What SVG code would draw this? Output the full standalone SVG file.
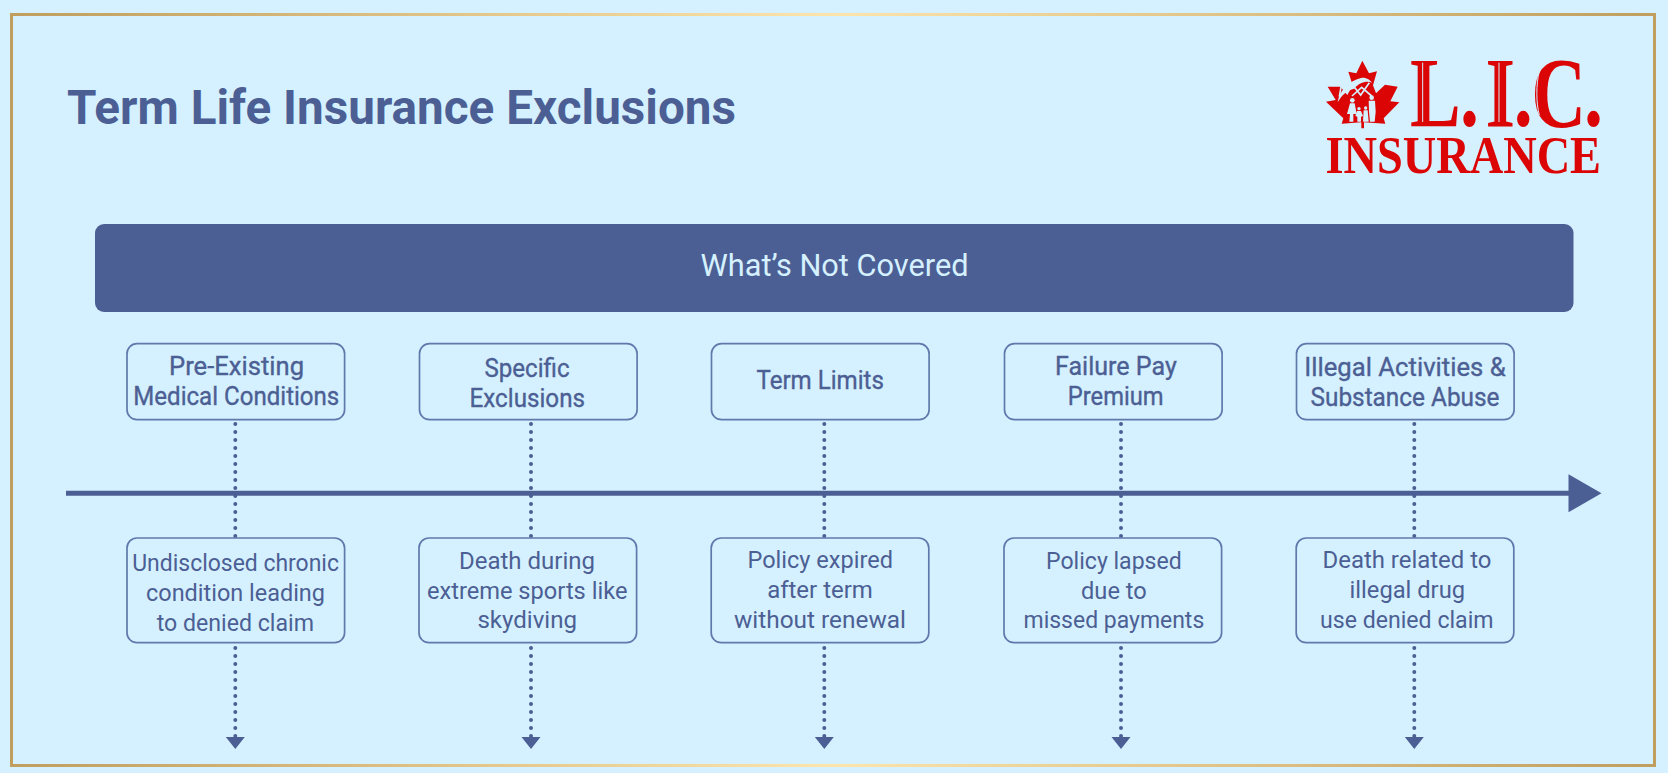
<svg xmlns="http://www.w3.org/2000/svg" width="1668" height="773" viewBox="0 0 1668 773">
<defs>
<linearGradient id="gold" x1="0" y1="0" x2="1" y2="0"><stop offset="0" stop-color="#bf9e60"/><stop offset=".5" stop-color="#fde4aa"/><stop offset="1" stop-color="#bf9e60"/></linearGradient>
</defs>
<style>
text{font-family:Roboto,"Liberation Sans",sans-serif;fill:#4c5f94;text-anchor:middle}
.box{fill:none;stroke:#6079ac;stroke-width:1.7}
.t{font-size:25px;font-weight:400;stroke:#4c5f94;stroke-width:.35}
.b{font-size:24px;font-weight:400}
.dot{stroke:#4c5f94;stroke-width:4;stroke-linecap:round;stroke-dasharray:0 8;fill:none}
.logo{font-family:"Liberation Serif",serif;fill:#dc0505;font-weight:700;text-anchor:start}
.cut{fill:#d5f1ff}
.cutl{fill:none;stroke:#d5f1ff}
</style>
<rect width="1668" height="773" fill="#d5f1ff"/>
<rect x="11.5" y="14.5" width="1643" height="751" fill="none" stroke="url(#gold)" stroke-width="3"/>
<text x="67" y="124" textLength="669" lengthAdjust="spacingAndGlyphs" style="text-anchor:start;font-size:48px;font-weight:700">Term Life Insurance Exclusions</text>
<g id="logo">
<g transform="translate(1290 40) scale(.33333)">
<path d="M217 62L237 100 261 94 249 136 258 160 285 134 323 140 301 184 328 187 281 235 286 251 222 247V265H214V247L155 251 160 235 108 185 137 180 113 140 151 140 172 165 188 136 175 95 199 100Z" fill="#dc0505"/>
<path class="cut" d="M143 187C148 152 175 124 213 114 228 111 240 120 246 128 228 121 206 130 193 146 172 150 154 166 143 187Z"/>
<path class="cutl" stroke-width="5" d="M148 170L155 130M186 168L215 142 245 168M192 140L212 165 238 128"/>
<g class="cut">
<circle cx="187" cy="181" r="7"/><path d="M180 190L194 190 200 222 190 222 190 245 178 245 180 222 171 222Z"/>
<circle cx="245" cy="173" r="7"/><path d="M236 182L255 182 257 215 254 245 240 245 237 215Z"/>
<circle cx="207" cy="206" r="5"/><path d="M201 213L213 213 219 228 213 230 213 245 202 245 202 230 196 228Z"/>
<circle cx="227" cy="204" r="5"/><path d="M221 211L233 211 236 245 219 245Z"/>
</g>
</g>
<text class="logo" transform="translate(1410 125.700) scale(.76 1)" x="0 65.800 95 99.300 136.400 159.400 229" y="0" style="font-size:100px">L. I.C.</text>
<g transform="translate(1290 40) scale(.33333)">
<path class="cutl" stroke-width="3" d="M398 68V246M627 68V246M748 95C738 130 738 190 748 225"/>
</g>
<text class="logo" x="1325.500" y="172.700" textLength="275.500" lengthAdjust="spacingAndGlyphs" style="font-size:52px">INSURANCE</text>
</g>
<g id="banner"><rect x="95" y="224" width="1478.500" height="88" rx="9" fill="#4c5f94"/><text x="834.500" y="275.700" textLength="268" lengthAdjust="spacingAndGlyphs" style="font-size:31px;font-weight:400;fill:#d5f1ff">What’s Not Covered</text></g>
<g id="connectors">
<path d="M66 493.200H1575" stroke="#4c5f94" stroke-width="5" fill="none"/>
<path d="M1568.500 474.300L1601.500 493.300L1568.500 512.300Z" fill="#4c5f94"/>
<path class="dot" d="M235.300 424V537M235.300 648V738" />
<path class="dot" d="M531 424V537M531 648V738" />
<path class="dot" d="M824.300 424V537M824.300 648V738" />
<path class="dot" d="M1121 424V537M1121 648V738" />
<path class="dot" d="M1414.300 424V537M1414.300 648V738" />
<path d="M225.800 737h19l-9.500 12zM521.500 737h19l-9.500 12zM814.800 737h19l-9.500 12zM1111.500 737h19l-9.500 12zM1404.800 737h19l-9.500 12z" fill="#4c5f94"/>
</g>
<g id="n1"><rect class="box" x="127" y="343.700" width="217.600" height="76" rx="10"/><text class="t" x="236.500" y="375" textLength="135" lengthAdjust="spacingAndGlyphs">Pre-Existing</text><text class="t" x="236.300" y="405" textLength="206" lengthAdjust="spacingAndGlyphs">Medical Conditions</text></g>
<g id="n2"><rect class="box" x="419.500" y="343.700" width="217.600" height="76" rx="10"/><text class="t" x="527" y="376.700" textLength="85" lengthAdjust="spacingAndGlyphs">Specific</text><text class="t" x="527.300" y="407.300" textLength="115.400" lengthAdjust="spacingAndGlyphs">Exclusions</text></g>
<g id="n3"><rect class="box" x="711.500" y="343.700" width="217.600" height="76" rx="10"/><text class="t" x="820.200" y="388.700" textLength="127.500" lengthAdjust="spacingAndGlyphs">Term Limits</text></g>
<g id="n4"><rect class="box" x="1004.500" y="343.700" width="217.600" height="76" rx="10"/><text class="t" x="1115.900" y="375" textLength="121.800" lengthAdjust="spacingAndGlyphs">Failure Pay</text><text class="t" x="1115.700" y="405.300" textLength="95.700" lengthAdjust="spacingAndGlyphs">Premium</text></g>
<g id="n5"><rect class="box" x="1296.500" y="343.700" width="217.600" height="76" rx="10"/><text class="t" x="1405" y="375.700" textLength="201.400" lengthAdjust="spacingAndGlyphs">Illegal Activities &amp;</text><text class="t" x="1405" y="406" textLength="189" lengthAdjust="spacingAndGlyphs">Substance Abuse</text></g>
<g id="d1"><rect class="box" x="127" y="538" width="217.600" height="104.700" rx="10"/><text class="b" x="235.600" y="570.700" textLength="206.700" lengthAdjust="spacingAndGlyphs">Undisclosed chronic</text><text class="b" x="235.500" y="600.700" textLength="179" lengthAdjust="spacingAndGlyphs">condition leading</text><text class="b" x="235.300" y="630.700" textLength="157.300" lengthAdjust="spacingAndGlyphs">to denied claim</text></g>
<g id="d2"><rect class="box" x="419" y="538" width="217.600" height="104.700" rx="10"/><text class="b" x="527" y="568.700" textLength="136" lengthAdjust="spacingAndGlyphs">Death during</text><text class="b" x="527.200" y="598.700" textLength="200.500" lengthAdjust="spacingAndGlyphs">extreme sports like</text><text class="b" x="527.200" y="628.300" textLength="99.600" lengthAdjust="spacingAndGlyphs">skydiving</text></g>
<g id="d3"><rect class="box" x="711.200" y="538" width="217.600" height="104.700" rx="10"/><text class="b" x="820.200" y="567.700" textLength="145.400" lengthAdjust="spacingAndGlyphs">Policy expired</text><text class="b" x="820" y="598" textLength="105.700" lengthAdjust="spacingAndGlyphs">after term</text><text class="b" x="820" y="627.700" textLength="172" lengthAdjust="spacingAndGlyphs">without renewal</text></g>
<g id="d4"><rect class="box" x="1004" y="538" width="217.600" height="104.700" rx="10"/><text class="b" x="1113.900" y="568.700" textLength="135.700" lengthAdjust="spacingAndGlyphs">Policy lapsed</text><text class="b" x="1113.900" y="598.700" textLength="65.700" lengthAdjust="spacingAndGlyphs">due to</text><text class="b" x="1113.900" y="628.300" textLength="180.700" lengthAdjust="spacingAndGlyphs">missed payments</text></g>
<g id="d5"><rect class="box" x="1296.200" y="538" width="217.600" height="104.700" rx="10"/><text class="b" x="1407" y="567.700" textLength="169" lengthAdjust="spacingAndGlyphs">Death related to</text><text class="b" x="1407.300" y="597.700" textLength="115.400" lengthAdjust="spacingAndGlyphs">illegal drug</text><text class="b" x="1406.800" y="627.700" textLength="173.600" lengthAdjust="spacingAndGlyphs">use denied claim</text></g>
</svg>
